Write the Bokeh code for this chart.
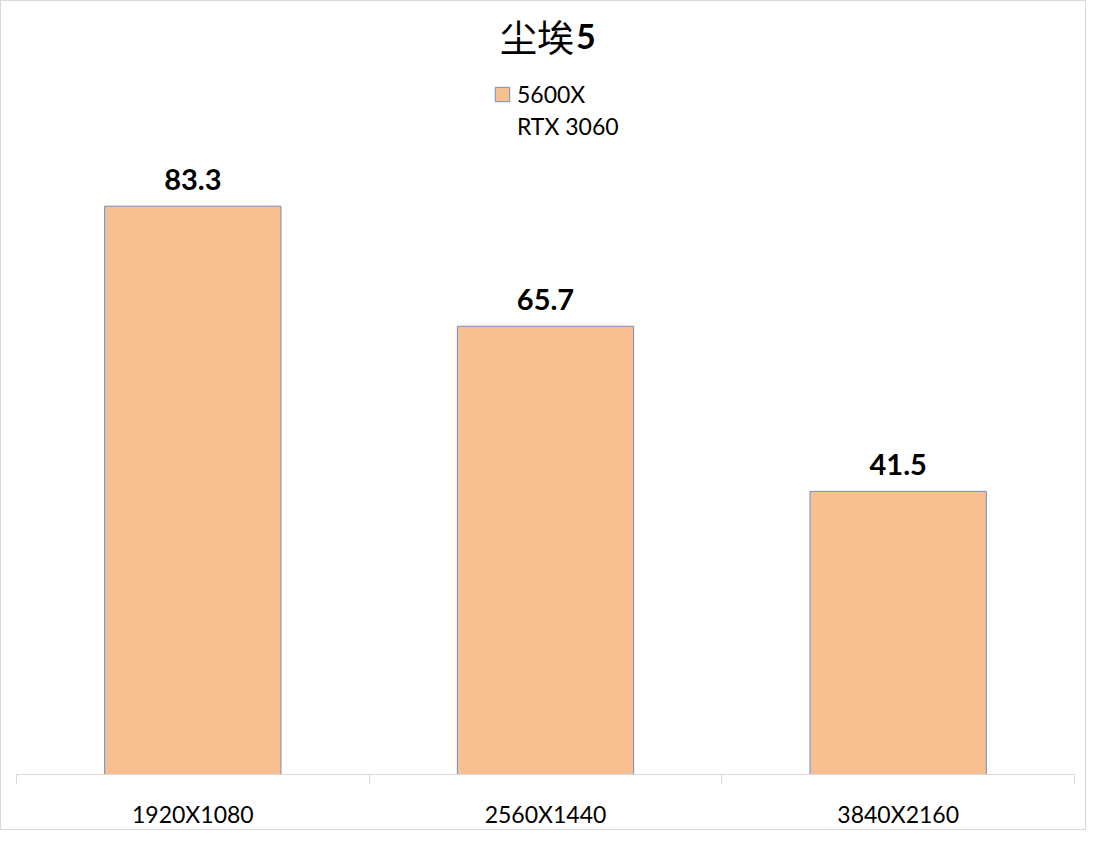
from bokeh.plotting import figure
from bokeh.models import Range1d, FixedTicker, Label, Legend, LegendItem, ColumnDataSource
from bokeh.core.properties import value
from bokeh.embed import file_html
from bokeh.resources import INLINE

# chart data
resolutions = ["1920X1080", "2560X1440", "3840X2160"]
fps = [83.3, 65.7, 41.5]
series_name = "5600X"
gpu_name = "RTX 3060"
title_cn = "尘埃"
title_num = "5"

BAR = "#F8BF91"
EDGE = "#6F8FC6"
FONT = "Lato"
CJK = "Noto Sans CJK SC"

src = ColumnDataSource(data=dict(
    x=list(range(len(resolutions))),
    fps=fps,
    txt=[f"{v:.1f}" for v in fps],
))

# frame reaches the top of the canvas so title and legend sit inside it
p = figure(width=1086, height=830, output_backend="svg", toolbar_location=None,
           x_range=Range1d(-0.5, len(resolutions) - 0.5), y_range=Range1d(0, 113.3),
           min_border_left=15, min_border_right=13, min_border_top=0, min_border_bottom=57)
p.styles = {"border": "1px solid #d9d9d9"}
p.outline_line_color = None
p.grid.visible = False
p.yaxis.visible = False

# bars and value labels
bars = p.vbar(x="x", top="fps", width=0.5, source=src,
              fill_color=BAR, line_color=EDGE, line_width=1)
p.text(x="x", y="fps", text="txt", source=src, text_align="center",
       text_baseline="alphabetic", y_offset=-27, text_font=value(FONT),
       text_font_style="bold", text_font_size="29px", text_color="black")

# x axis: labels at bar centres, small ticks at category borders
ax = p.xaxis[0]
ax.ticker = FixedTicker(ticks=list(range(len(resolutions))),
                        minor_ticks=[i - 0.5 for i in range(len(resolutions) + 1)])
ax.major_label_overrides = {i: r for i, r in enumerate(resolutions)}
ax.axis_line_color = "#d9d9d9"
ax.major_tick_line_color = None
ax.major_tick_in = 0
ax.major_tick_out = 0
ax.minor_tick_line_color = "#d9d9d9"
ax.minor_tick_in = 0
ax.minor_tick_out = 9
ax.major_label_standoff = 16
ax.major_label_text_font = FONT
ax.major_label_text_font_size = "23px"
ax.major_label_text_color = "black"

# legend: series swatch + second line without swatch
blank = p.vbar(x=[], top=[], width=0.5, fill_alpha=0, line_alpha=0)
legend = Legend(items=[LegendItem(label=series_name, renderers=[bars]),
                       LegendItem(label=gpu_name, renderers=[blank])],
                location=(477, 634), glyph_width=18, glyph_height=18,
                label_standoff=6, spacing=4, padding=0, margin=0,
                border_line_color=None, background_fill_alpha=0,
                label_text_font=FONT, label_text_font_size="23px",
                label_text_color="black")
p.add_layout(legend)

# title: Chinese part regular, number bold
p.add_layout(Label(x=1.075, y=108.2, x_offset=2, text=title_cn, text_align="right",
                   text_baseline="alphabetic", text_font=CJK,
                   text_font_size="37px", text_color="black"))
p.add_layout(Label(x=1.075, y=108.2, x_offset=4, text=title_num, text_align="left",
                   text_baseline="alphabetic", text_font=FONT, text_font_style="bold",
                   text_font_size="34px", text_color="black"))

open("out.html", "w").write(file_html(p, INLINE))
